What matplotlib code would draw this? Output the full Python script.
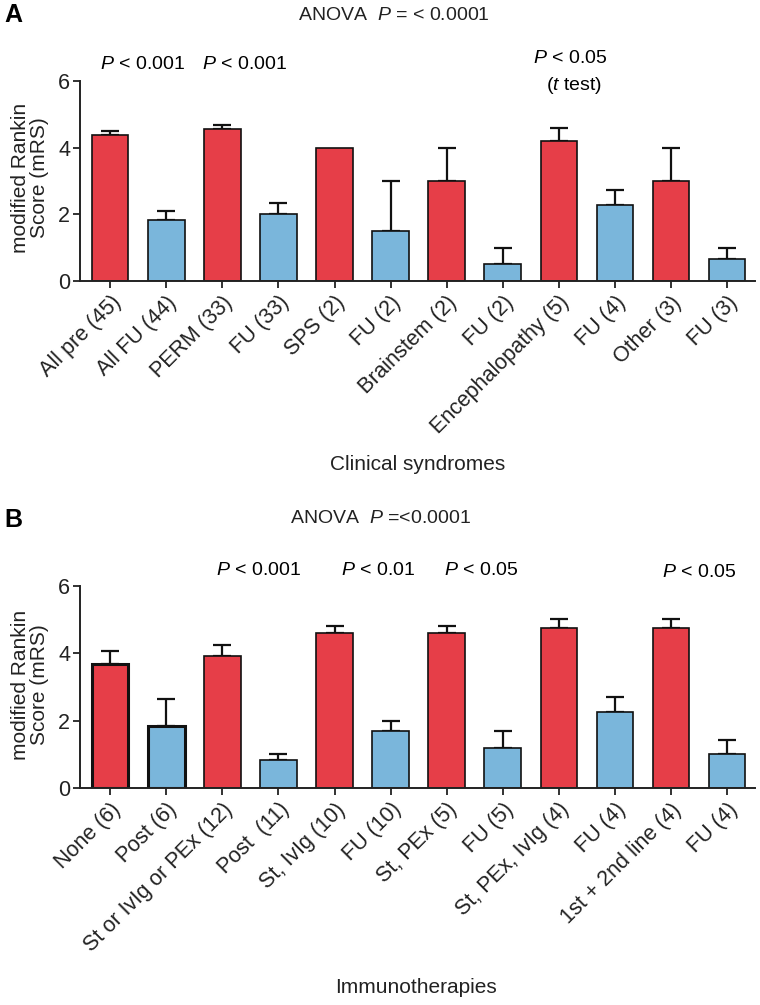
import numpy as np
import matplotlib
matplotlib.use("Agg")
import matplotlib.pyplot as plt

plt.rcParams['font.family'] = ['Liberation Sans', 'DejaVu Sans']
plt.rcParams['mathtext.fontset'] = 'custom'
plt.rcParams['mathtext.rm'] = 'Liberation Sans'
plt.rcParams['mathtext.it'] = 'Liberation Sans:italic'

# panel A - clinical syndromes
syndrome_labels = ['All pre (45)', 'All FU (44)', 'PERM (33)', 'FU (33)', 'SPS (2)', 'FU (2)',
                   'Brainstem (2)', 'FU (2)', 'Encephalopathy (5)', 'FU (4)', 'Other (3)', 'FU (3)']
syndrome_mean = [4.38, 1.82, 4.57, 2.0, 4.0, 1.5, 3.0, 0.5, 4.2, 2.27, 3.0, 0.67]
syndrome_err = [0.12, 0.27, 0.11, 0.33, 0.0, 1.5, 1.0, 0.5, 0.38, 0.45, 1.0, 0.33]

# panel B - immunotherapies
therapy_labels = ['None (6)', 'Post (6)', 'St or IvIg or PEx (12)', 'Post  (11)', 'St, IvIg (10)', 'FU (10)',
                  'St, PEx (5)', 'FU (5)', 'St, PEx, IvIg (4)', 'FU (4)', '1st + 2nd line (4)', 'FU (4)']
therapy_mean = [3.67, 1.83, 3.92, 0.82, 4.6, 1.7, 4.6, 1.2, 4.74, 2.25, 4.74, 1.0]
therapy_err = [0.4, 0.8, 0.33, 0.2, 0.2, 0.3, 0.2, 0.5, 0.28, 0.45, 0.28, 0.42]

RED = '#E63E48'
BLUE = '#7AB6DB'
INK = '#222222'


def draw_panel(ax, labels, mean, err):
    x = np.arange(len(labels))
    mean = np.array(mean)
    err = np.array(err)
    colors = [RED if i % 2 == 0 else BLUE for i in x]
    m = err > 0
    ax.errorbar(x[m], mean[m], yerr=[np.zeros(m.sum()), err[m]], fmt='none',
                ecolor='#111111', elinewidth=1.6, capsize=6.5, capthick=1.6, zorder=1)
    bars = ax.bar(x, mean, width=0.65, color=colors, edgecolor='#111111', linewidth=1.2, zorder=2)
    ax.set_xlim(-0.54, 11.5)
    ax.set_ylim(0, 6)
    ax.set_yticks([0, 2, 4, 6])
    ax.set_xticks(x)
    ax.set_xticklabels(labels, rotation=45, ha='right', rotation_mode='anchor', fontsize=15.5)
    ax.tick_params(axis='y', labelsize=15.5, length=5, width=1.3, pad=2, colors=INK)
    ax.tick_params(axis='x', length=5, width=1.3, pad=3, colors=INK)
    for s in ['top', 'right']:
        ax.spines[s].set_visible(False)
    for s in ['left', 'bottom']:
        ax.spines[s].set_linewidth(1.4)
        ax.spines[s].set_color(INK)
    return bars


fig = plt.figure(figsize=(7.6, 10.05), dpi=100)

axA = fig.add_axes([80 / 760, 1 - 281 / 1005, 675 / 760, 200 / 1005])
draw_panel(axA, syndrome_labels, syndrome_mean, syndrome_err)
axA.text(0.58, 6.5, '$P$ < 0.001', ha='center', va='center', fontsize=14)
axA.text(2.4, 6.5, '$P$ < 0.001', ha='center', va='center', fontsize=14)
axA.text(8.2, 6.67, '$P$ < 0.05', ha='center', va='center', fontsize=14)
axA.text(8.28, 5.88, '($t$ test)', ha='center', va='center', fontsize=14)

axB = fig.add_axes([80 / 760, 1 - 788 / 1005, 675 / 760, 202 / 1005])
barsB = draw_panel(axB, therapy_labels, therapy_mean, therapy_err)
for b in list(barsB)[:2]:
    b.set_linewidth(2.2)
axB.text(2.65, 6.45, '$P$ < 0.001', ha='center', va='center', fontsize=14)
axB.text(4.78, 6.45, '$P$ < 0.01', ha='center', va='center', fontsize=14)
axB.text(6.62, 6.45, '$P$ < 0.05', ha='center', va='center', fontsize=14)
axB.text(10.5, 6.41, '$P$ < 0.05', ha='center', va='center', fontsize=14)

for yc in [178, 685]:
    fig.text(30 / 760, 1 - yc / 1005, 'modified Rankin\nScore (mRS)', rotation=90, ha='center', va='center',
             fontsize=15, linespacing=1.05, color=INK)

fig.text(394 / 760, 1 - 15 / 1005, 'ANOVA  $P$ = < 0.0001', ha='center', va='center', fontsize=14, color=INK)
fig.text(380 / 760, 1 - 518 / 1005, 'ANOVA  $P$ =<0.0001', ha='center', va='center', fontsize=14, color=INK)
fig.text(418 / 760, 1 - 465 / 1005, 'Clinical syndromes', ha='center', va='center', fontsize=15, color=INK)
fig.text(416 / 760, 1 - 987 / 1005, 'Immunotherapies', ha='center', va='center', fontsize=15, color=INK)
fig.text(13 / 760, 1 - 15 / 1005, 'A', ha='center', va='center', fontsize=18, fontweight='bold')
fig.text(13 / 760, 1 - 520 / 1005, 'B', ha='center', va='center', fontsize=18, fontweight='bold')

plt.savefig('out.png', dpi=100)
